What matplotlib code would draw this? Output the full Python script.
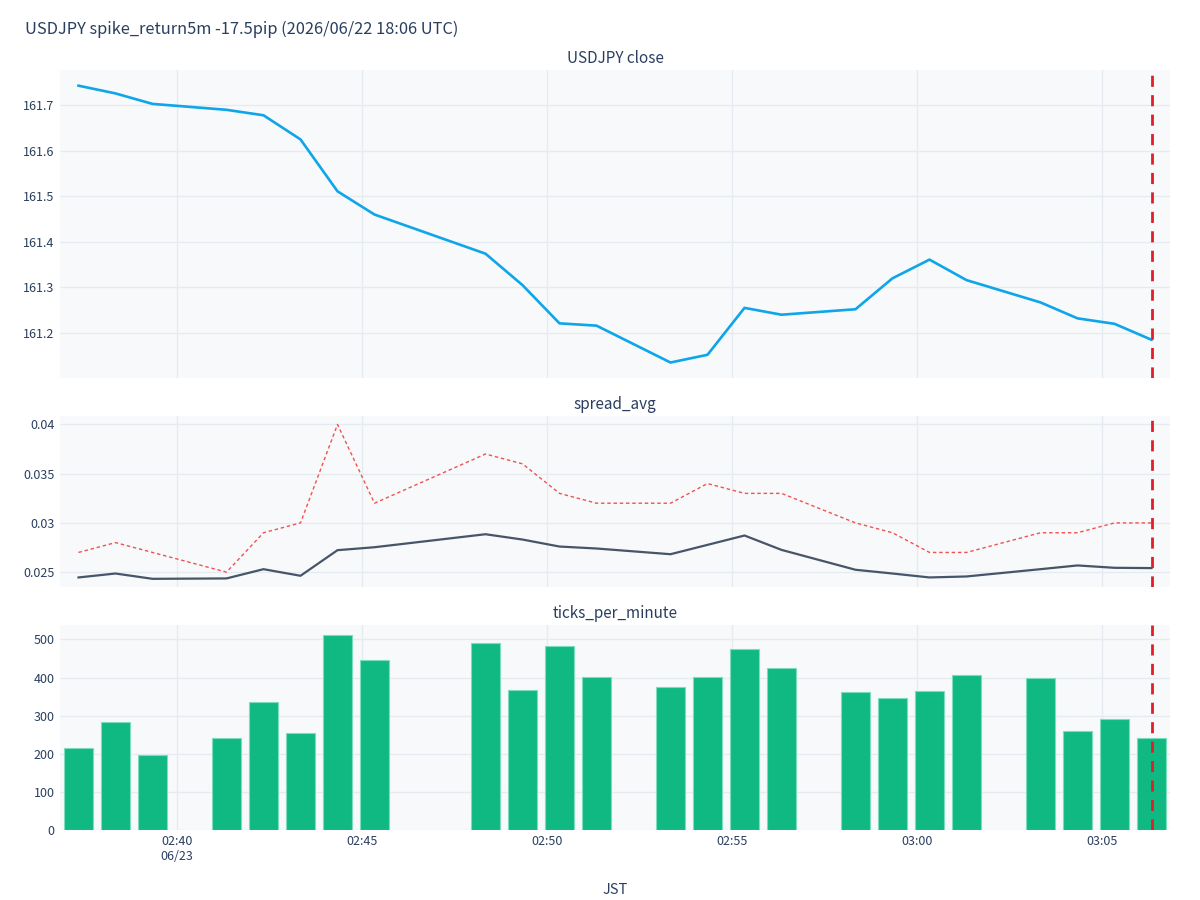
import pandas as pd
import matplotlib.pyplot as plt
import matplotlib.dates as mdates
from matplotlib.ticker import FuncFormatter, MultipleLocator

plt.rcParams['font.family'] = ['Noto Sans CJK JP', 'DejaVu Sans']

day = "2026-06-23"
times = ["02:37:20", "02:38:20", "02:39:20", "02:41:20", "02:42:20", "02:43:20",
         "02:44:20", "02:45:20", "02:48:20", "02:49:20", "02:50:20", "02:51:20",
         "02:53:20", "02:54:20", "02:55:20", "02:56:20", "02:58:20", "02:59:20",
         "03:00:20", "03:01:20", "03:03:20", "03:04:20", "03:05:20", "03:06:20"]
close = [161.743, 161.726, 161.703, 161.690, 161.678, 161.625, 161.511, 161.460,
         161.374, 161.305, 161.221, 161.216, 161.135, 161.152, 161.255, 161.240,
         161.252, 161.320, 161.361, 161.316, 161.267, 161.232, 161.220, 161.185]
spread_avg = [0.02446, 0.02486, 0.02432, 0.02436, 0.0253, 0.02463, 0.02723, 0.02753,
              0.02885, 0.02831, 0.0276, 0.0274, 0.02682, 0.02777, 0.02872, 0.02726,
              0.02524, 0.02486, 0.02446, 0.02456, 0.0253, 0.02568, 0.02544, 0.02541]
spread_max = [0.027, 0.028, 0.027, 0.025, 0.029, 0.030, 0.040, 0.032,
              0.037, 0.036, 0.033, 0.032, 0.032, 0.034, 0.033, 0.033,
              0.030, 0.029, 0.027, 0.027, 0.029, 0.029, 0.030, 0.030]
ticks = [214, 282, 197, 241, 335, 254, 512, 447, 491, 368, 482, 401,
         375, 401, 474, 425, 361, 345, 364, 406, 398, 260, 290, 240]
spike_time = "03:06:20"
title = "USDJPY spike_return5m -17.5pip (2026/06/22 18:06 UTC)"

t = pd.to_datetime([day + " " + s for s in times])
spike = pd.to_datetime(day + " " + spike_time)

txt = "#2a3f5f"
grid = "#e6eaf1"
bg = "#f8f9fa"

fig = plt.figure(figsize=(12, 9), dpi=100)
ax1 = fig.add_axes([0.05, 0.58, 0.925, 0.342])
ax2 = fig.add_axes([0.05, 0.348, 0.925, 0.19], sharex=ax1)
ax3 = fig.add_axes([0.05, 0.078, 0.925, 0.228], sharex=ax1)

ax1.plot(t, close, color="#0ea5e9", lw=1.9)
ax1.set_ylim(161.101, 161.777)
ax1.yaxis.set_major_locator(MultipleLocator(0.1))

ax2.plot(t, spread_avg, color="#475569", lw=1.6)
ax2.plot(t, spread_max, color="#f05252", lw=1, linestyle=(0, (2.5, 2)))
ax2.set_ylim(0.02351, 0.04088)
ax2.yaxis.set_major_locator(MultipleLocator(0.005))

ax3.bar(t, ticks, width=0.8 / 1440, color="#10b981", edgecolor="#7ddcbc", linewidth=0.8)
ax3.set_ylim(0, 539)
ax3.yaxis.set_major_locator(MultipleLocator(100))

for ax, name in [(ax1, "USDJPY close"), (ax2, "spread_avg"), (ax3, "ticks_per_minute")]:
    ax.set_facecolor(bg)
    ax.set_axisbelow(True)
    ax.grid(True, color=grid, lw=1)
    for sp in ax.spines.values():
        sp.set_visible(False)
    ax.tick_params(length=0, labelsize=9, colors=txt, pad=4)
    ax.yaxis.set_major_formatter(FuncFormatter(lambda v, p: "{:g}".format(round(v, 4))))
    ax.axvline(spike, color="#e11d2a", lw=2, linestyle=(0, (4, 3)))
    ax.set_title(name, fontsize=11, color=txt, pad=5)

ax1.set_xlim(pd.to_datetime(day + " 02:36:50"), pd.to_datetime(day + " 03:06:50"))
ax1.xaxis.set_major_locator(mdates.MinuteLocator(byminute=range(0, 60, 5)))


def fmt_time(v, p):
    d = mdates.num2date(v)
    if p == 0:
        return d.strftime("%H:%M") + "\n" + d.strftime("%m/%d")
    return d.strftime("%H:%M")


ax3.xaxis.set_major_formatter(FuncFormatter(fmt_time))
plt.setp(ax1.get_xticklabels(), visible=False)
plt.setp(ax2.get_xticklabels(), visible=False)
ax3.set_xlabel("JST", fontsize=10.5, color=txt, labelpad=14)

fig.text(0.021, 0.967, title, fontsize=11.8, color=txt, va="center")

fig.savefig("out.png")
